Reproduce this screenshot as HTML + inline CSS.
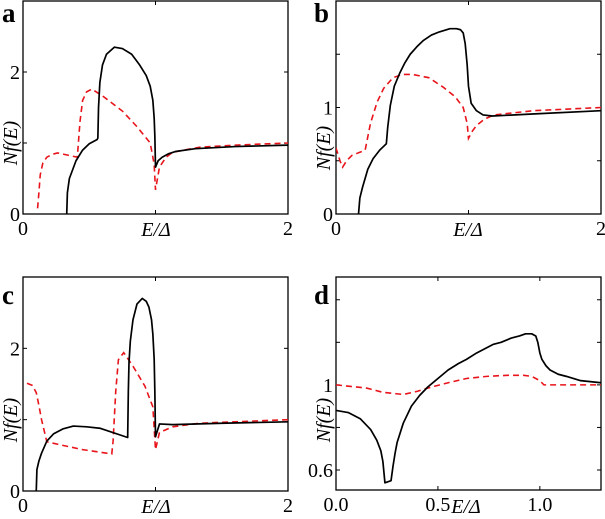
<!DOCTYPE html>
<html><head><meta charset="utf-8"><style>
body{margin:0;background:#fff;width:605px;height:514px;overflow:hidden}
svg text{font-family:"Liberation Serif",serif}
</style></head><body>
<svg id="s" width="605" height="514"></svg>
<script>
const aBlackE=[0.33,0.335,0.35,0.4,0.45,0.5,0.56,0.565,0.57,0.58,0.6,0.63,0.69,0.75,0.82,0.88,0.93,0.96,0.98,0.99,0.995,1.0,1.02,1.05,1.1,1.15,1.3,1.6,2];
const aBlackV=[0,0.3,0.5,0.75,0.9,0.99,1.05,1.07,1.5,1.85,2.1,2.25,2.35,2.33,2.25,2.1,1.95,1.8,1.6,1.35,1.1,0.66,0.75,0.8,0.85,0.88,0.92,0.95,0.97];
const aRedE=[0.11,0.12,0.13,0.15,0.18,0.22,0.26,0.41,0.43,0.45,0.48,0.52,0.61,0.75,0.86,0.96,0.99,1.0,1.03,1.08,1.13,1.33,1.6,2];
const aRedV=[0.08,0.3,0.55,0.72,0.8,0.84,0.86,0.8,1.3,1.6,1.72,1.76,1.65,1.45,1.23,1.0,0.7,0.34,0.66,0.8,0.87,0.94,0.97,1.0];
const bBlackE=[0.17,0.18,0.2,0.24,0.28,0.33,0.38,0.39,0.41,0.44,0.48,0.52,0.56,0.61,0.66,0.72,0.78,0.86,0.91,0.94,0.96,0.975,0.99,1.0,1.02,1.06,1.11,1.18,1.5,2];
const bBlackV=[0,0.15,0.25,0.42,0.52,0.6,0.66,0.81,1.02,1.2,1.32,1.42,1.5,1.57,1.63,1.68,1.71,1.74,1.74,1.73,1.7,1.6,1.4,1.2,1.04,0.97,0.93,0.92,0.94,0.97];
const bRedE=[0,0.03,0.05,0.08,0.12,0.22,0.26,0.31,0.36,0.43,0.5,0.58,0.7,0.81,0.9,0.96,0.99,1.0,1.03,1.06,1.12,1.19,1.49,2];
const bRedV=[0.62,0.5,0.44,0.5,0.55,0.6,0.85,1.05,1.18,1.28,1.31,1.31,1.28,1.19,1.1,1.0,0.85,0.71,0.78,0.83,0.89,0.93,0.97,1.0];
const cBlackE=[0.1,0.105,0.12,0.14,0.18,0.23,0.3,0.38,0.48,0.58,0.79,0.795,0.8,0.81,0.83,0.86,0.9,0.93,0.95,0.97,0.98,0.99,0.995,1.0,1.03,1.13,1.5,2];
const cBlackV=[0,0.3,0.42,0.53,0.7,0.8,0.87,0.91,0.9,0.88,0.75,1.4,1.8,2.1,2.4,2.62,2.7,2.66,2.58,2.4,2.2,1.85,1.4,0.76,0.94,0.93,0.95,0.97];
const cRedE=[0.03,0.07,0.1,0.12,0.14,0.18,0.3,0.45,0.67,0.68,0.7,0.72,0.76,0.83,0.92,0.98,1.0,1.03,1.13,1.33,1.6,2];
const cRedV=[1.51,1.48,1.38,1.2,1.0,0.69,0.64,0.58,0.52,0.7,1.4,1.84,1.94,1.75,1.47,1.18,0.58,0.82,0.9,0.95,0.97,1.0];
const dBlackE=[0,0.06,0.12,0.17,0.2,0.22,0.23,0.24,0.27,0.28,0.29,0.3,0.33,0.37,0.41,0.45,0.5,0.55,0.6,0.64,0.69,0.73,0.77,0.81,0.86,0.9,0.93,0.96,0.98,0.99,1.0,1.01,1.03,1.05,1.09,1.13,1.2,1.3];
const dBlackV=[0.88,0.87,0.84,0.79,0.74,0.69,0.64,0.54,0.55,0.62,0.68,0.73,0.82,0.9,0.95,0.99,1.03,1.07,1.1,1.12,1.15,1.17,1.19,1.2,1.22,1.23,1.24,1.24,1.23,1.2,1.15,1.12,1.09,1.07,1.05,1.04,1.02,1.01];
const dRedE=[0,0.15,0.23,0.33,0.4,0.45,0.55,0.64,0.74,0.84,0.92,0.96,1.0,1.02,1.1,1.3];
const dRedV=[1.0,0.985,0.965,0.955,0.97,0.985,1.01,1.03,1.04,1.045,1.045,1.04,1.02,1.0,1.0,1.0];

const S=document.getElementById('s');const NS='http://www.w3.org/2000/svg';
function mk(t,a,p){const e=document.createElementNS(NS,t);for(const k in a)e.setAttribute(k,a[k]);(p||S).appendChild(e);return e;}
function panel(id,L,R,T,B,xmin,xmax,ymin,ymax,xt,xl,yt,yl,letter,lx,ly,blackE,blackV,redE,redV,xlabX,xlabY,ylabY){
  const g=mk('g',{});
  
  
  const X=v=>L+(v-xmin)/(xmax-xmin)*(R-L), Y=v=>B-(v-ymin)/(ymax-ymin)*(B-T);
  const fr=mk('rect',{x:L,y:T,width:R-L,height:B-T,fill:'none',stroke:'#000','stroke-width':1.3},g);
  
  
  xt.forEach(v=>{mk('line',{x1:X(v),x2:X(v),y1:B,y2:B-4,stroke:'#000'},g);mk('line',{x1:X(v),x2:X(v),y1:T,y2:T+4,stroke:'#000'},g);});
  yt.forEach(v=>{mk('line',{x1:L,x2:L+4,y1:Y(v),y2:Y(v),stroke:'#000'},g);mk('line',{x1:R,x2:R-4,y1:Y(v),y2:Y(v),stroke:'#000'},g);});
  xl.forEach(([v,s])=>{const t=mk('text',{x:X(v),y:B+21,'font-size':20,'text-anchor':'middle'},g);t.textContent=s;
    
    });
  yl.forEach(([v,s])=>{const t=mk('text',{x:L-3,y:Y(v)+7,'font-size':20,'text-anchor':'end'},g);t.textContent=s;
    
    });
  const lt=mk('text',{x:lx,y:ly,'font-size':27,'font-weight':'bold'},g);lt.textContent=letter;
  
  
  const xa=mk('text',{x:xlabX,y:xlabY,'font-size':20,'font-style':'italic','text-anchor':'middle'},g);xa.textContent='E/Δ';
  
  
  const ya=mk('text',{x:0,y:0,'font-size':20,'font-style':'italic','text-anchor':'middle',transform:`translate(${L-6},${ylabY}) rotate(-90)`},g);ya.textContent='Nf(E)';
  
  
  const cp=mk('clipPath',{id:'c'+id},g);mk('rect',{x:L,y:T,width:R-L,height:B-T},cp);
  const pr=mk('polyline',{points:redE.map((e,i)=>X(e)+','+Y(redV[i])).join(' '),fill:'none',stroke:'#e8141b','stroke-width':1.6,'stroke-dasharray':'6,4','clip-path':`url(#c${id})`},g);
  
  
  const pb=mk('polyline',{points:blackE.map((e,i)=>X(e)+','+Y(blackV[i])).join(' '),fill:'none',stroke:'#000','stroke-width':1.7,'stroke-linejoin':'round','clip-path':`url(#c${id})`},g);
  
  
}
panel('a',23,288,1,214,0,2,0,3,[1],[[0,'0'],[2,'2']],[1,2],[[0,'0'],[2,'2']],'a',2,22,aBlackE,aBlackV,aRedE,aRedV,156,236,143);
panel('b',336,601,1,214,0,2,0,2,[1],[[0,'0'],[2,'2']],[0.5,1,1.5],[[0,'0'],[1,'1']],'b',314,22,bBlackE,bBlackV,bRedE,bRedV,468,236,148);
panel('c',23,288,277,491,0,2,0,3,[1],[[0,'0'],[2,'2']],[1,2],[[0,'0'],[2,'2']],'c',2,304,cBlackE,cBlackV,cRedE,cRedV,156,513,420);
panel('d',336,601,277,490,0,1.3,0.506,1.507,[0.5,1.0],[[0,'0.0'],[0.5,'0.5'],[1.0,'1.0']],[0.6,0.8,1,1.2,1.4],[[0.6,'0.6'],[1,'1']],'d',314,304,dBlackE,dBlackV,dRedE,dRedV,466,513,420);
</script>
</body></html>
